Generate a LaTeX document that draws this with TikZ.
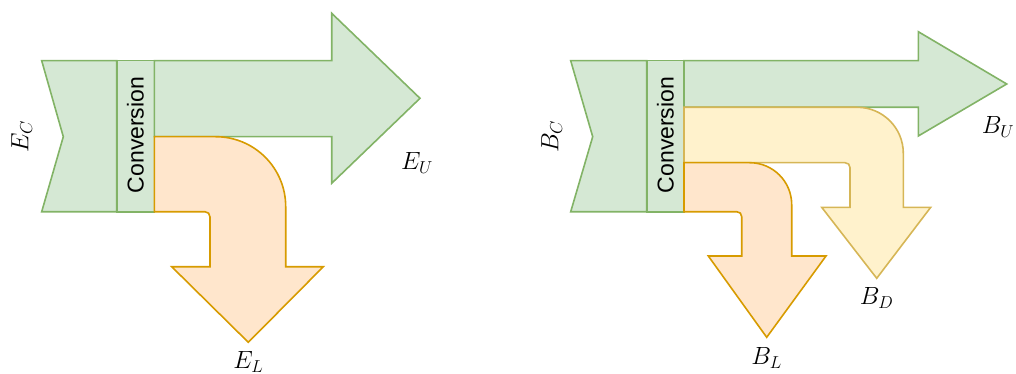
\documentclass[tikz,border=0pt]{standalone}
\usepackage{fontspec}
\setsansfont{Liberation Sans}
\usepackage{tikz}
\usetikzlibrary{positioning}
\definecolor{LeafGreen}{HTML}{82B366}
\definecolor{SoftGreen}{HTML}{D5E8D4}
\definecolor{DeepOrange}{HTML}{D79B00}
\definecolor{SoftOrange}{HTML}{FFE6CC}
\definecolor{DullGold}{HTML}{D6B656}
\definecolor{SoftYellow}{HTML}{FFF2CC}

\begin{document}
\begin{tikzpicture}[
  x=1pt,y=-1pt,
  greenflow/.style={draw=LeafGreen,fill=SoftGreen,line width=1.6pt,line join=miter},
  lossflow/.style={draw=DeepOrange,fill=SoftOrange,line width=1.6pt,line join=miter},
  dumpflow/.style={draw=DullGold,fill=SoftYellow,line width=1.6pt,line join=miter},
  convlabel/.style={font=\sffamily\fontsize{23}{26}\selectfont,rotate=90,inner sep=0pt},
  flowlabel/.style={font=\fontsize{27}{32}\selectfont,inner sep=0pt}
]
\useasboundingbox (0,0) rectangle (1016,374);

% left: energy
\draw[greenflow] (41.7,60.7) -- (116.7,60.7) -- (116.7,211.7) -- (41.7,211.7) -- (63.3,136.7) -- cycle;
\draw[greenflow] (116.7,60.7) rectangle (154.3,211.7);
\draw[greenflow] (154.3,60.7) -- (331.7,60.7) -- (331.7,13.3) -- (420,98.3) -- (331.7,183.3) -- (331.7,136.7) -- (154.3,136.7) -- cycle;
\draw[lossflow] (154.3,136.7) -- (215.7,136.7) .. controls (254.4,136.7) and (285.7,168) .. (285.7,206.7)
  -- (285.7,266.7) -- (323.3,266.7) -- (248.3,342.3) -- (171.7,266.7) -- (210,266.7) -- (210,217)
  .. controls (210,214) and (208,211.7) .. (205,211.7) -- (154.3,211.7) -- cycle;
\node[convlabel] (convE) at (135.5,135) {Conversion};
\node[flowlabel,rotate=90] (EC) at (21.7,136.7) {$E_C$};
\node[flowlabel] (EU) at (417,163.3) {$E_U$};
\node[flowlabel] (EL) at (248.3,362) {$E_L$};

% right: budget
\draw[greenflow] (570.7,60.7) -- (646.7,60.7) -- (646.7,211.7) -- (570.7,211.7) -- (592.7,136.7) -- cycle;
\draw[greenflow] (646.7,60.7) rectangle (684,211.7);
\draw[greenflow] (684,60.7) -- (918.3,60.7) -- (918.3,31.7) -- (1006.7,84) -- (918.3,136) -- (918.3,107.3) -- (684,107.3) -- cycle;
\draw[dumpflow] (684,107.3) -- (857.3,107.3) .. controls (882.7,107.3) and (903.3,127.9) .. (903.3,153.3)
  -- (903.3,207.3) -- (930.7,207.3) -- (876.7,278.3) -- (821.7,207.3) -- (850,207.3) -- (850,167.7)
  .. controls (850,164.7) and (848,162.7) .. (845,162.7) -- (684,162.7) -- cycle;
\draw[lossflow] (684,162.7) -- (749.7,162.7) .. controls (772.9,162.7) and (791.7,181.5) .. (791.7,204.7)
  -- (791.7,256) -- (826,256) -- (766.7,337.3) -- (708.3,256) -- (741.7,256) -- (741.7,216.7)
  .. controls (741.7,213.7) and (739.7,211.7) .. (736.7,211.7) -- (684,211.7) -- cycle;
\node[convlabel] (convB) at (665.3,135) {Conversion};
\node[flowlabel,rotate=90] (BC) at (551.7,136.7) {$B_C$};
\node[flowlabel] (BU) at (998,127) {$B_U$};
\node[flowlabel] (BD) at (876.7,298.3) {$B_D$};
\node[flowlabel] (BL) at (766.7,358.3) {$B_L$};
\end{tikzpicture}
\end{document}
